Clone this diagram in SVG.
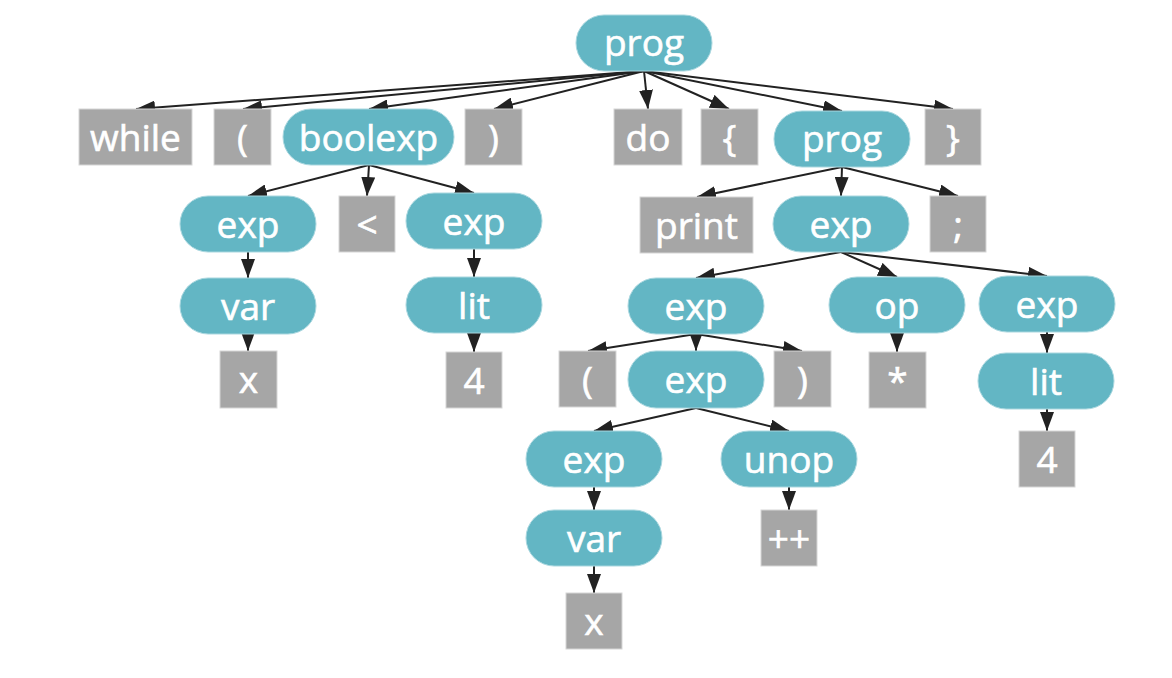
<svg xmlns="http://www.w3.org/2000/svg" width="1172" height="678" viewBox="0 0 1172 678">
<style>
.pill{fill:#63b6c4;stroke:#a9d7df;stroke-width:1}
.box{fill:#a6a6a6;stroke:#d6d6d6;stroke-width:1}
text{font-family:"Open Sans","Noto Sans","Liberation Sans",sans-serif;font-size:37px;fill:#ffffff;stroke:#ffffff;stroke-width:0.6;text-anchor:middle}
.edge{stroke:#222222;stroke-width:2;fill:none;marker-end:url(#arr)}
</style>
<defs>
<marker id="arr" markerUnits="userSpaceOnUse" markerWidth="19" markerHeight="14" refX="19" refY="7" orient="auto">
<path d="M0,0 L19,7 L0,14 Z" fill="#222222"/>
</marker>
</defs>
<rect width="1172" height="678" fill="#ffffff"/>
<g id="connectors">
<line class="edge" x1="644" y1="71" x2="136" y2="109"/>
<line class="edge" x1="644" y1="71" x2="243" y2="109"/>
<line class="edge" x1="644" y1="71" x2="369" y2="109"/>
<line class="edge" x1="644" y1="71" x2="494" y2="109"/>
<line class="edge" x1="644" y1="71" x2="648" y2="109"/>
<line class="edge" x1="644" y1="71" x2="729" y2="109"/>
<line class="edge" x1="644" y1="71" x2="842" y2="111"/>
<line class="edge" x1="644" y1="71" x2="953" y2="109"/>
<line class="edge" x1="369" y1="165" x2="248" y2="196"/>
<line class="edge" x1="369" y1="165" x2="367" y2="196"/>
<line class="edge" x1="369" y1="165" x2="474" y2="193"/>
<line class="edge" x1="248" y1="252" x2="248" y2="278"/>
<line class="edge" x1="474" y1="249" x2="474" y2="277"/>
<line class="edge" x1="248" y1="334" x2="248" y2="351"/>
<line class="edge" x1="474" y1="333" x2="474" y2="352"/>
<line class="edge" x1="842" y1="167" x2="697" y2="197"/>
<line class="edge" x1="842" y1="167" x2="841" y2="196"/>
<line class="edge" x1="842" y1="167" x2="958" y2="196"/>
<line class="edge" x1="841" y1="252" x2="696" y2="278"/>
<line class="edge" x1="841" y1="252" x2="897" y2="277"/>
<line class="edge" x1="841" y1="252" x2="1047" y2="276"/>
<line class="edge" x1="696" y1="334" x2="588" y2="351"/>
<line class="edge" x1="696" y1="334" x2="696" y2="351"/>
<line class="edge" x1="696" y1="334" x2="802" y2="351"/>
<line class="edge" x1="897" y1="333" x2="897" y2="352"/>
<line class="edge" x1="1047" y1="332" x2="1047" y2="353"/>
<line class="edge" x1="1047" y1="409" x2="1047" y2="431"/>
<line class="edge" x1="696" y1="408" x2="594" y2="431"/>
<line class="edge" x1="696" y1="408" x2="789" y2="431"/>
<line class="edge" x1="594" y1="487" x2="594" y2="510"/>
<line class="edge" x1="789" y1="487" x2="789" y2="510"/>
<line class="edge" x1="594" y1="566" x2="594" y2="593"/>
</g>
<g id="n-prog"><rect class="pill" x="576" y="15" width="136" height="56" rx="28"/><text x="644" y="56">prog</text></g>
<g id="n-while"><rect class="box" x="79" y="109" width="113" height="56"/><text x="135.5" y="151">while</text></g>
<g id="n-lparen1"><rect class="box" x="214" y="109" width="57" height="56"/><text x="242.5" y="151">(</text></g>
<g id="n-boolexp"><rect class="pill" x="283" y="109" width="171" height="56" rx="28"/><text x="368.5" y="151">boolexp</text></g>
<g id="n-rparen1"><rect class="box" x="465" y="109" width="57" height="56"/><text x="493.5" y="151">)</text></g>
<g id="n-do"><rect class="box" x="614" y="109" width="68" height="56"/><text x="648" y="151">do</text></g>
<g id="n-lbrace"><rect class="box" x="701" y="109" width="57" height="56"/><text x="729.5" y="151">{</text></g>
<g id="n-prog2"><rect class="pill" x="774" y="111" width="136" height="56" rx="28"/><text x="842" y="152">prog</text></g>
<g id="n-rbrace"><rect class="box" x="925" y="109" width="56" height="56"/><text x="953" y="151">}</text></g>
<g id="n-expL"><rect class="pill" x="180" y="196" width="136" height="56" rx="28"/><text x="248" y="238">exp</text></g>
<g id="n-lt"><rect class="box" x="339" y="196" width="56" height="56"/><text x="367" y="238">&lt;</text></g>
<g id="n-expR"><rect class="pill" x="406" y="193" width="136" height="56" rx="28"/><text x="474" y="235">exp</text></g>
<g id="n-varL"><rect class="pill" x="180" y="278" width="136" height="56" rx="28"/><text x="248" y="320">var</text></g>
<g id="n-litL"><rect class="pill" x="406" y="277" width="136" height="56" rx="28"/><text x="474" y="319">lit</text></g>
<g id="n-xL"><rect class="box" x="220" y="351" width="57" height="57"/><text x="248.5" y="393">x</text></g>
<g id="n-4L"><rect class="box" x="446" y="352" width="56" height="56"/><text x="474" y="394">4</text></g>
<g id="n-print"><rect class="box" x="640" y="197" width="113" height="56"/><text x="696.5" y="239">print</text></g>
<g id="n-expM"><rect class="pill" x="773" y="196" width="136" height="56" rx="28"/><text x="841" y="238">exp</text></g>
<g id="n-semi"><rect class="box" x="930" y="196" width="56" height="56"/><text x="958" y="238">;</text></g>
<g id="n-expA"><rect class="pill" x="628" y="278" width="136" height="56" rx="28"/><text x="696" y="320">exp</text></g>
<g id="n-op"><rect class="pill" x="829" y="277" width="136" height="56" rx="28"/><text x="897" y="319">op</text></g>
<g id="n-expB"><rect class="pill" x="979" y="276" width="136" height="56" rx="28"/><text x="1047" y="318">exp</text></g>
<g id="n-lparen2"><rect class="box" x="559" y="351" width="57" height="56"/><text x="587.5" y="393">(</text></g>
<g id="n-expC"><rect class="pill" x="628" y="351" width="136" height="57" rx="28"/><text x="696" y="393">exp</text></g>
<g id="n-rparen2"><rect class="box" x="774" y="351" width="57" height="56"/><text x="802.5" y="393">)</text></g>
<g id="n-star"><rect class="box" x="869" y="352" width="57" height="56"/><text x="897.5" y="394">*</text></g>
<g id="n-litB"><rect class="pill" x="978" y="353" width="136" height="56" rx="28"/><text x="1046" y="395">lit</text></g>
<g id="n-4B"><rect class="box" x="1019" y="431" width="56" height="56"/><text x="1047" y="473">4</text></g>
<g id="n-expD"><rect class="pill" x="526" y="431" width="136" height="56" rx="28"/><text x="594" y="473">exp</text></g>
<g id="n-unop"><rect class="pill" x="721" y="431" width="136" height="56" rx="28"/><text x="789" y="473">unop</text></g>
<g id="n-varD"><rect class="pill" x="526" y="510" width="136" height="56" rx="28"/><text x="594" y="552">var</text></g>
<g id="n-plusplus"><rect class="box" x="761" y="510" width="56" height="56"/><text x="789" y="552">++</text></g>
<g id="n-xD"><rect class="box" x="566" y="593" width="56" height="56"/><text x="594" y="635">x</text></g>
</svg>
